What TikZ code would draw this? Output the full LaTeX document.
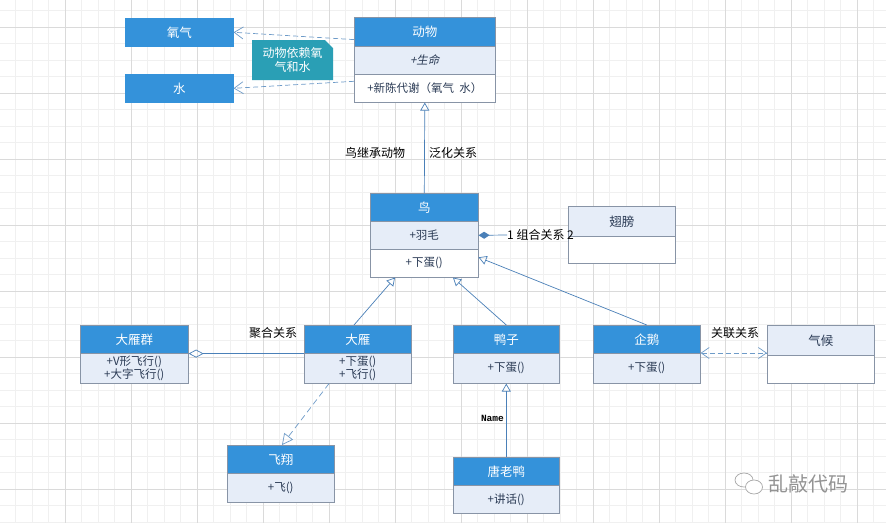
\documentclass[tikz,border=0pt]{standalone}
\usepackage{fontspec}
\setmainfont{Noto Sans CJK SC}
\newfontfamily\cjkslant{Noto Sans CJK SC}[FakeSlant=0.2]
\newfontfamily\monof{Liberation Mono}
\usetikzlibrary{arrows.meta,calc}
\definecolor{hblue}{HTML}{3492DA}
\definecolor{light}{HTML}{E6EDF8}
\definecolor{bord}{HTML}{8894A6}
\definecolor{txt}{HTML}{2B3B55}
\definecolor{lineblue}{HTML}{4A80B8}
\definecolor{dashblue}{HTML}{6E9BC8}
\definecolor{notefill}{HTML}{2A9FB5}
\definecolor{gmin}{HTML}{F0F0F0}
\definecolor{gmaj}{HTML}{DADADA}
\begin{document}
\begin{tikzpicture}[x=1pt,y=-1pt,
  cls/.style={draw=bord, line width=0.6pt, inner sep=0pt, anchor=north west,
    font=\fontsize{11.5}{12.5}\selectfont, align=center},
  sz/.style 2 args={minimum width=#1pt, minimum height=#2pt},
  hdr/.style={cls, fill=hblue, text=white, font=\fontsize{12.5}{13}\selectfont},
  lt/.style={cls, fill=light, text=txt},
  wt/.style={cls, fill=white, text=txt},
  lbl/.style={font=\fontsize{12}{13}\selectfont, text=black, inner sep=1pt},
  gen/.style={draw=lineblue, line width=0.7pt, -{Triangle[open, length=8pt, width=9pt]}},
  dep/.style={draw=dashblue, line width=0.7pt, dash pattern=on 5pt off 3pt, -{Straight Barb[length=9pt, width=12pt]}},
  real/.style={draw=dashblue, line width=0.7pt, dash pattern=on 6pt off 4pt, -{Triangle[open, length=11pt, width=11pt]}},
  assoc/.style={draw=dashblue, line width=0.7pt, dash pattern=on 5pt off 3pt, {Straight Barb[length=8pt, width=11pt]}-{Straight Barb[length=8pt, width=11pt]}},
  comp/.style={draw=lineblue, line width=0.7pt, {Diamond[length=11pt, width=7pt]}-},
  agg/.style={draw=lineblue, line width=0.7pt, -{Diamond[open, length=15pt, width=8pt]}},
]
\useasboundingbox (0,0) rectangle (886,523);
\fill[white] (0,0) rectangle (886,523);
% grid
\foreach \x in {-1,15.5,...,890} \draw[gmin, line width=0.5pt] (\x,0) -- (\x,523);
\foreach \y in {10.5,27,...,530} \draw[gmin, line width=0.5pt] (0,\y) -- (886,\y);
\foreach \x in {-1,65,...,890} \draw[gmaj, line width=0.6pt] (\x,0) -- (\x,523);
\foreach \y in {27,93,...,530} \draw[gmaj, line width=0.6pt] (0,\y) -- (886,\y);

% top: oxygen, water
\node[hdr, sz={108}{28}, draw=hblue] (oxy) at (125,18) {氧气};
\node[hdr, sz={108}{28}, draw=hblue] (water) at (125,74) {水};

% animal
\node[hdr, sz={141}{29}] (dw-h) at (354,17) {动物};
\node[lt, sz={141}{28}] (dw-a) at (354,46) {\cjkslant +生命};
\node[wt, sz={141}{28}] (dw-m) at (354,74) {+新陈代谢（氧气\ \ 水）};

% note
\fill[notefill] (252,40) -- (325,40) -- (333,48) -- (333,80) -- (252,80) -- cycle;
\node[text=white, align=center, font=\fontsize{12}{14}\selectfont, inner sep=0pt] (note) at (292.5,60) {动物依赖氧\\气和水};

% bird
\node[hdr, sz={108}{28}] (niao-h) at (370,193) {鸟};
\node[lt, sz={108}{28}] (niao-a) at (370,221) {+羽毛};
\node[wt, sz={108}{28}] (niao-m) at (370,249) {+下蛋()};

% wings
\node[lt, sz={107}{30}, font=\fontsize{12.5}{13}\selectfont] (cb-h) at (568,206) {翅膀};
\node[wt, sz={107}{27}] (cb-b) at (568,236) {};

% geese flock
\node[hdr, sz={108}{28}] (dyq-h) at (80,325) {大雁群};
\node[lt, sz={108}{30}, font=\fontsize{11.5}{11.5}\selectfont] (dyq-b) at (80,353) {+V形飞行()\\+大字飞行()};

% goose
\node[hdr, sz={107}{28}] (dy-h) at (304,325) {大雁};
\node[lt, sz={107}{30}, font=\fontsize{11.5}{11}\selectfont] (dy-b) at (304,353) {+下蛋()\\+飞行()};

% duck
\node[hdr, sz={106}{28}] (yz-h) at (453,325) {鸭子};
\node[lt, sz={106}{30}] (yz-b) at (453,353) {+下蛋()};

% penguin
\node[hdr, sz={107}{28}] (qe-h) at (593,325) {企鹅};
\node[lt, sz={107}{30}] (qe-b) at (593,353) {+下蛋()};

% climate
\node[lt, sz={107}{30}, font=\fontsize{12.5}{13}\selectfont] (qh-h) at (767,325) {气候};
\node[wt, sz={107}{28}] (qh-b) at (767,355) {};

% fly
\node[hdr, sz={107}{28}] (fx-h) at (227,445) {飞翔};
\node[lt, sz={107}{29}] (fx-b) at (227,473) {+飞()};

% donald duck
\node[hdr, sz={106}{28}] (tld-h) at (453,457) {唐老鸭};
\node[lt, sz={106}{28}] (tld-b) at (453,485) {+讲话()};

% dependencies
\draw[dep] ($(dw-h.south west)+(0,-7)$) -- (oxy.east);
\draw[dep] ($(dw-m.west)+(0,-7)$) -- (water.east);

% generalization bird -> animal
\draw[gen] (niao-h.north) -- (dw-m.south);
\node[lbl] (l-inh) at (375,153) {鸟继承动物};
\node[lbl] (l-gen) at (453,153) {泛化关系};

% composition
\node[lbl, anchor=west, inner sep=0pt] (l-comp) at (507,235) {1 组合关系 2};
\draw[comp] (niao-a.east) -- (l-comp.west);

% aggregation
\draw[agg] (dy-h.south west) -- (dyq-h.south east);
\node[lbl] (l-agg) at (273,333) {聚合关系};

% inheritance to bird
\draw[gen] ($(dy-h.north west)+(50,0)$) -- ($(niao-m.south west)+(25,0)$);
\draw[gen] (yz-h.north) -- ($(niao-m.south west)+(83,0)$);
\draw[gen] (qe-h.north) -- ($(niao-m.east)+(0,-6)$);

% realization
\draw[real] ($(dy-b.south west)+(25,0)$) -- ($(fx-h.north west)+(55,0)$);

% donald duck -> duck
\draw[gen] (tld-h.north) -- (yz-b.south);
\node[anchor=east, inner sep=0pt, font=\monof\bfseries\fontsize{9.5}{10}\selectfont] (l-name) at (504,418) {Name};

% association
\draw[assoc] (qe-b.north east) -- (qe-b.north east -| qh-h.west);
\node[lbl] (l-assoc) at (735,333) {关联关系};

% watermark
\draw[gray!70, line width=0.7pt] (744,480) ellipse [x radius=9pt, y radius=7pt];
\draw[gray!70, line width=0.7pt, fill=white] (754,487) ellipse [x radius=8.5pt, y radius=7pt];
\node[text=gray!85, font=\fontsize{20}{21}\selectfont, anchor=west, inner sep=0pt] (wm) at (768,484) {乱敲代码};
\end{tikzpicture}
\end{document}
